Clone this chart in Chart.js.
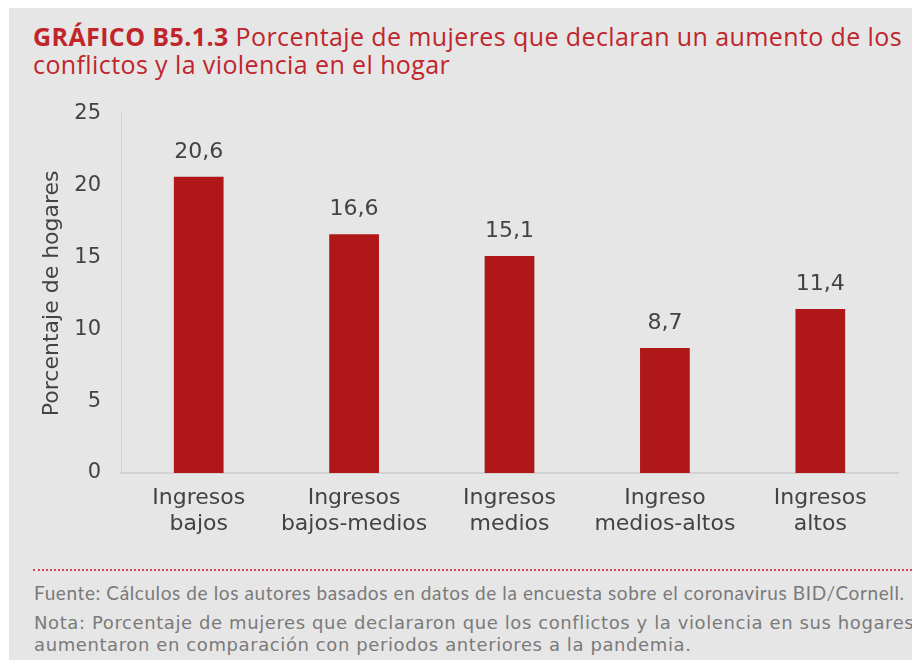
<!DOCTYPE html>
<html lang="es">
<head>
<meta charset="utf-8">
<script src="https://cdn.jsdelivr.net/npm/chart.js@4.4.0/dist/chart.umd.min.js"></script>
<style>
  html, body { margin: 0; padding: 0; background: #fff; }
  body { width: 912px; height: 660px; position: relative; overflow: hidden; }
  .panel { position: absolute; left: 9px; top: 8px; width: 903px; height: 652px; background: #e6e6e6; }
  .title { position: absolute; left: 33px; top: 22px; width: 885px; font-family: "Open Sans", sans-serif;
           font-size: 25px; line-height: 28px; color: #c0252b; letter-spacing: 0.4px; }
  .title b { font-weight: 700; }
  .chart-wrap { position: absolute; left: 9px; top: 81px; width: 903px; height: 464px; }
  .sep { position: absolute; left: 33px; top: 569px; width: 879px; border-top: 2px dotted #d0474b; }
  .foot { position: absolute; left: 34px; color: #7a7a7a; white-space: nowrap; }
  .src { top: 581px; font-family: Lato, sans-serif; font-size: 19px; letter-spacing: 0.6px; }
  .note { top: 612px; font-family: "DejaVu Sans", sans-serif; font-size: 18px; line-height: 22px; letter-spacing: 0.6px; }
</style>
</head>
<body>
<div class="panel"></div>
<div class="title"><b>GRÁFICO B5.1.3</b> Porcentaje de mujeres que declaran un aumento de los conflictos y la violencia en el hogar</div>
<div class="chart-wrap"><canvas id="barChart"></canvas></div>
<div class="sep"></div>
<div class="foot src">Fuente: Cálculos de los autores basados en datos de la encuesta sobre el coronavirus BID/Cornell.</div>
<div class="foot note">Nota: Porcentaje de mujeres que declararon que los conflictos y la violencia en sus hogares<br>aumentaron en comparación con periodos anteriores a la pandemia.</div>
<script>
const CATEGORIES = [
  ['Ingresos', 'bajos'],
  ['Ingresos', 'bajos-medios'],
  ['Ingresos', 'medios'],
  ['Ingreso', 'medios-altos'],
  ['Ingresos', 'altos'],
];
const VALUES = [20.6, 16.6, 15.1, 8.7, 11.4];
const Y_TICKS = [0, 5, 10, 15, 20, 25];

const BAR_COLOR = '#b01718';
const TEXT_COLOR = '#434343';
const FONT = '"DejaVu Sans", sans-serif';

// value labels above the bars, comma as decimal sign
const valueLabels = {
  id: 'valueLabels',
  afterDatasetsDraw(chart) {
    const ctx = chart.ctx;
    const meta = chart.getDatasetMeta(0);
    ctx.save();
    ctx.font = '22px ' + FONT;
    ctx.fillStyle = TEXT_COLOR;
    ctx.textAlign = 'center';
    ctx.textBaseline = 'middle';
    meta.data.forEach((bar, i) => {
      ctx.fillText(VALUES[i].toFixed(1).replace('.', ','), bar.x, bar.y - 25);
    });
    ctx.restore();
  }
};

new Chart(document.getElementById('barChart'), {
  type: 'bar',
  data: {
    labels: CATEGORIES,
    datasets: [{
      data: VALUES,
      backgroundColor: BAR_COLOR,
      borderWidth: 0,
      barPercentage: 0.32,
      categoryPercentage: 1,
    }],
  },
  options: {
    responsive: true,
    maintainAspectRatio: false,
    animation: false,
    layout: { padding: { top: 5, right: 14, left: 0, bottom: 0 } },
    plugins: { legend: { display: false }, tooltip: { enabled: false } },
    scales: {
      x: {
        grid: { display: false, drawTicks: false },
        border: { color: '#d2d2d2', width: 2 },
        ticks: { font: { family: FONT, size: 22, lineHeight: 1.16 }, color: TEXT_COLOR, padding: 13, maxRotation: 0, autoSkip: false },
        afterFit: s => { s.height = 72; },
      },
      y: {
        min: 0, max: 25,
        afterBuildTicks: s => { s.ticks = Y_TICKS.map(v => ({ value: v })); },
        grid: { display: false, drawTicks: false },
        border: { color: '#d2d2d2', width: 1 },
        ticks: { font: { family: FONT, size: 21 }, color: TEXT_COLOR, padding: 20 },
        title: { display: true, text: 'Porcentaje de hogares', font: { family: FONT, size: 22 }, color: TEXT_COLOR, padding: { top: 30, bottom: 0 } },
        afterFit: s => { s.width = 112; },
      },
    },
  },
  plugins: [valueLabels],
});
</script>
</body>
</html>
